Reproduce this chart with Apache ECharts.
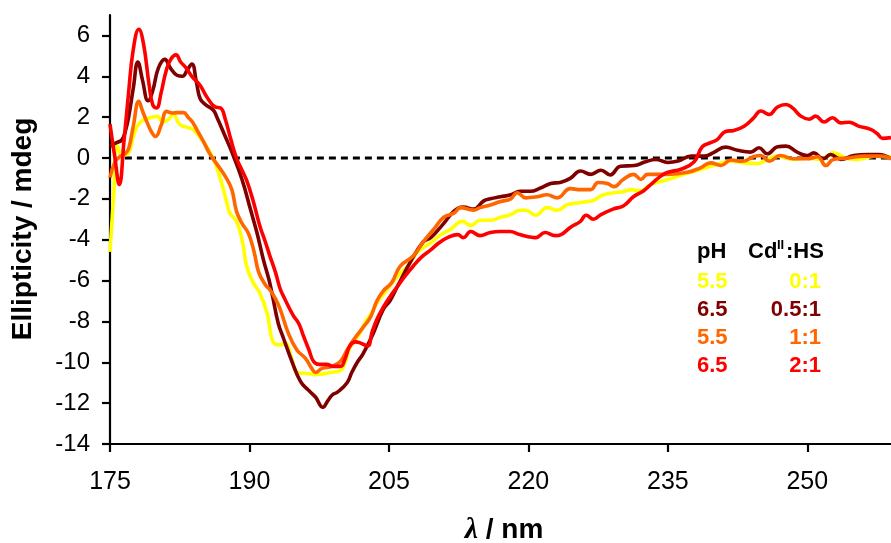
<!DOCTYPE html>
<html><head><meta charset="utf-8">
<script src="https://cdn.jsdelivr.net/npm/echarts@6/dist/echarts.min.js"></script>
<style>html,body{margin:0;padding:0;background:#fff;}#c{width:891px;height:543px;}</style>
</head><body><div id="c"></div>
<script>
// ---- data ----
const xTicks = [175, 190, 205, 220, 235, 250];
const yTicks = [-14, -12, -10, -8, -6, -4, -2, 0, 2, 4, 6];
const seriesNames = ['pH 5.5, 0:1', 'pH 6.5, 0.5:1', 'pH 5.5, 1:1', 'pH 6.5, 2:1'];
const phLabels = ['5.5', '6.5', '5.5', '6.5'];
const ratioLabels = ['0:1', '0.5:1', '1:1', '2:1'];
const colors = ['#FFFF00', '#800000', '#FF6600', '#FF0000'];

const yellowX = [175.0,175.4,175.8,176.3,177.0,177.5,178.2,179.3,180.1,180.7,181.3,181.8,182.5,183.3,183.9,184.7,185.6,186.3,186.8,187.4,187.9,188.6,189.2,189.7,190.4,191.1,191.9,192.6,193.3,193.8,194.6,195.1,196.2,197.3,198.7,199.8,200.3,200.8,201.9,202.5,203.0,203.7,204.8,205.9,207.0,208.1,209.5,210.6,211.6,212.9,213.8,214.8,215.9,217.0,218.1,219.1,219.7,220.8,222.0,223.1,224.2,225.3,226.4,227.0,228.1,229.2,230.2,231.0,232.1,233.1,235.0,236.7,238.5,239.9,241.8,243.2,244.7,245.7,246.8,248.5,250.0,251.5,252.8,254.4,255.4,257.2,259.0];
const yellowY = [-4.6,-1.8,0.6,0.15,0.25,1.05,1.73,1.97,2.04,1.75,1.9,2.13,1.64,1.5,1.4,1.0,0.41,-0.23,-0.9,-1.9,-2.7,-3.1,-4.0,-5.3,-6.1,-6.6,-7.6,-9.05,-9.15,-9.05,-9.9,-10.5,-10.55,-10.6,-10.5,-10.4,-10.0,-9.3,-8.55,-8.0,-7.7,-7.1,-6.45,-5.8,-5.3,-4.6,-4.15,-3.75,-3.5,-3.1,-3.3,-3.05,-3.05,-2.9,-2.77,-2.56,-2.56,-2.8,-2.43,-2.56,-2.28,-2.2,-2.13,-2.07,-1.8,-1.7,-1.65,-1.55,-1.6,-1.3,-1.05,-0.8,-0.56,-0.37,-0.16,-0.24,-0.27,-0.07,0.09,-0.07,0.0,-0.07,0.25,-0.04,-0.07,0.09,0.05];

const darkX = [175.0,175.7,176.3,176.7,177.0,177.5,178.0,178.5,179.1,179.6,180.2,180.9,181.5,182.2,182.8,183.3,183.8,184.3,184.7,185.3,186.1,186.5,187.4,188.3,189.2,190.1,190.8,191.5,192.1,192.5,193.1,193.6,194.6,195.5,196.3,197.1,197.9,198.4,198.9,199.5,200.5,201.0,201.6,202.2,203.3,204.4,205.1,205.9,207.3,208.7,209.5,210.9,212.0,213.0,214.1,215.2,215.9,217.0,218.1,219.1,220.2,221.3,222.4,223.5,224.5,225.6,226.7,227.8,228.8,229.9,231.4,232.5,233.7,235.0,236.1,237.5,238.9,239.9,241.2,242.5,243.9,244.8,245.7,246.8,247.7,248.9,250.0,250.7,251.7,252.5,253.6,255.0,256.5,257.7,259.0];
const darkY = [0.58,0.75,0.9,1.4,2.0,3.4,4.7,3.8,2.8,3.3,4.4,4.83,4.4,4.05,4.0,4.3,4.6,3.7,2.9,2.6,2.35,2.0,1.05,0.07,-1.05,-2.5,-3.65,-4.98,-5.96,-6.8,-8.1,-8.75,-10.0,-10.95,-11.35,-11.7,-12.2,-11.9,-11.6,-11.45,-11.0,-10.5,-10.0,-9.6,-8.6,-7.4,-7.0,-6.3,-5.1,-4.1,-3.9,-3.2,-2.6,-2.4,-2.5,-2.1,-2.0,-1.9,-1.8,-1.63,-1.63,-1.47,-1.25,-1.19,-1.0,-0.64,-0.8,-0.6,-0.83,-0.4,-0.37,-0.2,-0.07,-0.22,-0.15,0.09,0.09,0.26,0.53,0.38,0.29,0.5,0.21,0.55,0.58,0.29,0.12,0.25,-0.04,0.17,-0.07,0.12,0.17,0.17,-0.04];

const orangeX = [175.0,175.5,176.1,176.6,177.0,177.5,178.1,178.5,179.0,179.5,179.9,180.5,181.1,181.7,182.2,182.9,183.4,183.9,184.5,185.0,185.8,186.5,187.4,188.1,188.6,189.2,189.9,190.5,191.0,191.7,192.2,192.8,193.3,194.2,195.1,196.0,196.7,197.1,197.8,198.9,199.8,200.5,201.2,202.2,203.0,203.7,204.4,205.3,206.2,207.6,208.7,209.8,210.9,212.0,212.7,214.1,214.8,215.9,217.0,218.1,218.8,219.7,220.9,222.0,223.1,224.5,225.6,226.7,227.5,228.5,229.2,230.2,231.3,232.1,232.8,233.8,235.0,237.1,238.5,239.6,240.7,241.8,243.0,244.2,245.0,245.9,247.1,248.5,250.0,251.1,252.0,252.8,254.4,256.1,257.9,259.0];
const orangeY = [-0.96,-0.23,0.08,0.2,0.45,1.55,2.78,2.3,1.73,1.25,1.05,1.6,2.28,2.2,2.22,2.22,2.0,1.74,1.25,0.85,0.15,-0.3,-0.9,-1.55,-2.6,-3.2,-3.7,-4.6,-5.6,-6.2,-6.45,-6.9,-7.4,-8.6,-9.4,-9.8,-10.3,-10.5,-10.3,-10.2,-9.95,-9.4,-8.9,-8.3,-7.8,-7.0,-6.5,-6.1,-5.3,-4.8,-4.1,-3.5,-2.9,-2.7,-2.43,-2.55,-2.43,-2.3,-2.13,-2.0,-1.7,-1.95,-1.9,-1.8,-1.95,-1.5,-1.55,-1.55,-1.2,-1.25,-1.4,-1.05,-0.8,-1.05,-0.8,-0.8,-0.8,-0.7,-0.48,-0.24,-0.37,-0.1,-0.16,0.06,0.12,-0.16,0.12,-0.04,-0.04,0.06,-0.37,-0.07,0.0,0.09,0.09,-0.04];

const redX = [175.0,175.5,176.0,176.5,177.0,177.5,178.1,178.6,179.2,179.6,180.0,180.5,181.0,181.5,182.1,182.6,183.2,183.8,184.7,185.4,186.3,186.9,187.4,188.0,188.6,189.2,189.7,190.4,191.1,191.7,192.2,192.8,193.3,193.8,194.7,195.3,195.8,196.4,196.9,197.5,198.3,199.0,199.8,200.3,200.8,201.4,201.9,202.7,203.2,203.7,204.4,205.1,205.9,206.7,207.6,208.5,209.5,210.4,211.3,212.4,213.0,213.8,214.8,215.9,217.0,218.0,219.1,220.0,220.8,221.8,222.9,223.5,224.5,225.6,226.2,227.0,227.8,229.1,230.2,231.3,232.4,233.4,234.2,235.0,236.4,237.8,238.7,239.6,240.3,241.2,242.1,243.2,244.2,245.0,245.9,246.8,247.7,248.4,249.3,250.2,250.9,251.8,252.7,253.6,254.5,255.5,256.8,257.5,258.1,259.0];
const redY = [1.65,0.1,-1.3,0.8,3.2,5.3,6.3,5.6,3.6,2.6,2.45,3.2,4.2,4.8,5.05,4.7,4.4,4.0,3.55,3.0,2.5,2.45,1.9,0.9,0.0,-0.6,-1.1,-2.1,-3.3,-4.1,-4.8,-5.6,-6.4,-6.9,-7.7,-8.1,-8.7,-9.4,-9.96,-10.1,-10.1,-10.2,-10.2,-9.8,-9.2,-9.0,-9.05,-9.2,-8.5,-7.9,-7.3,-6.8,-6.3,-5.8,-5.3,-4.85,-4.5,-4.15,-3.9,-3.75,-3.9,-3.6,-3.8,-3.65,-3.6,-3.6,-3.75,-3.85,-3.9,-3.65,-3.8,-3.75,-3.4,-3.1,-2.8,-3.0,-2.77,-2.5,-2.35,-1.9,-1.6,-1.2,-0.9,-0.7,-0.55,-0.2,0.55,0.75,0.9,1.3,1.35,1.55,1.95,2.3,2.13,2.5,2.62,2.45,2.05,1.9,2.05,1.76,1.97,1.72,1.75,1.56,1.4,1.2,0.96,1.0];

const zeroLineX = [176.6, 259.0];
const zeroLineY = [0, 0];

// ---- build ----
function zip(xs, ys) { return xs.map((x, i) => [x, ys[i]]); }
const allX = [yellowX, darkX, orangeX, redX];
const allY = [yellowY, darkY, orangeY, redY];

const chart = echarts.init(document.getElementById('c'), null, { renderer: 'canvas' });
const FONT = 'Liberation Sans, Arial, sans-serif';

const series = [{
  type: 'line', name: 'zero', data: zip(zeroLineX, zeroLineY), symbol: 'none', silent: true,
  lineStyle: { color: '#000', width: 3, type: [7, 5] }, z: 1
}];
for (let i = 0; i < 4; i++) {
  series.push({
    type: 'line', name: seriesNames[i], data: zip(allX[i], allY[i]), symbol: 'none',
    smooth: 0.45, lineStyle: { color: colors[i], width: 3.6 }, z: 2 + i
  });
}

const graphics = [];
graphics.push({
  type: 'text', x: 23, y: 229, rotation: Math.PI / 2,
  style: { text: 'Ellipticity / mdeg', font: 'bold 28px ' + FONT, fill: '#000', align: 'center', verticalAlign: 'middle' }
});
graphics.push({
  type: 'text', x: 504, y: 530,
  style: {
    text: '{l|λ}{n| / nm}', align: 'center', verticalAlign: 'middle',
    rich: {
      l: { fontFamily: 'Liberation Serif, serif', fontStyle: 'italic', fontWeight: 'bold', fontSize: 30, fill: '#000' },
      n: { fontFamily: FONT, fontWeight: 'bold', fontSize: 28, fill: '#000' }
    }
  }
});
const LF = 'bold 22px ' + FONT;
graphics.push({ type: 'text', x: 697, y: 252, style: { text: 'pH', font: LF, fill: '#000', align: 'left', verticalAlign: 'middle' } });
graphics.push({ type: 'text', x: 748, y: 252, style: { text: 'Cd', font: LF, fill: '#000', align: 'left', verticalAlign: 'middle' } });
graphics.push({ type: 'text', x: 777, y: 245, style: { text: 'II', font: 'bold 13px ' + FONT, fill: '#000', align: 'left', verticalAlign: 'middle' } });
graphics.push({ type: 'text', x: 786, y: 252, style: { text: ':HS', font: LF, fill: '#000', align: 'left', verticalAlign: 'middle' } });
const rowY = [282, 310, 338, 366];
for (let i = 0; i < 4; i++) {
  graphics.push({ type: 'text', x: 697, y: rowY[i], style: { text: phLabels[i], font: LF, fill: colors[i], align: 'left', verticalAlign: 'middle' } });
  graphics.push({ type: 'text', x: 821, y: rowY[i], style: { text: ratioLabels[i], font: LF, fill: colors[i], align: 'right', verticalAlign: 'middle' } });
}

chart.setOption({
  animation: false,
  backgroundColor: '#fff',
  grid: { left: 110, top: 15, right: 0, bottom: 99, containLabel: false },
  xAxis: {
    type: 'value', min: 175, max: 259, interval: 15,
    splitLine: { show: false },
    axisLine: { show: true, onZero: false, lineStyle: { color: '#000', width: 2.2 } },
    axisTick: { show: true, inside: false, length: 8, customValues: xTicks, lineStyle: { color: '#000', width: 2.2 } },
    axisLabel: { customValues: xTicks, margin: 26, fontSize: 25, color: '#000', fontFamily: FONT }
  },
  yAxis: {
    type: 'value', min: -14, max: 7, interval: 2,
    splitLine: { show: false },
    axisLine: { show: true, onZero: false, lineStyle: { color: '#000', width: 2.2 } },
    axisTick: { show: true, inside: false, length: 8, customValues: yTicks, lineStyle: { color: '#000', width: 2.2 } },
    axisLabel: { customValues: yTicks, margin: 20, fontSize: 24, color: '#000', fontFamily: FONT }
  },
  series: series,
  graphic: graphics
});
</script>
</body></html>
